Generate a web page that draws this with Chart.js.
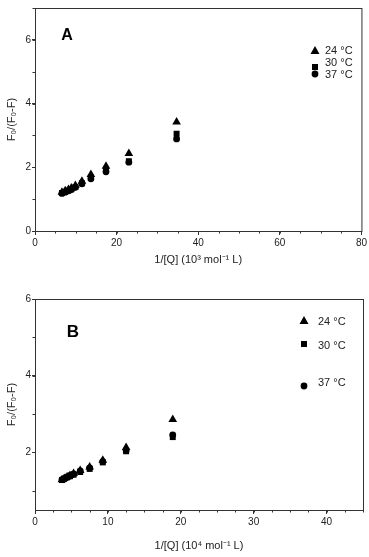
<!DOCTYPE html>
<html>
<head>
    <title>Stern-Volmer plots</title>
    <script src="https://cdn.jsdelivr.net/npm/chart.js"></script>
    <style>
        body { margin: 0; background: #fff; }
        canvas { display: block; }
    </style>
</head>
<body>
    <canvas id="chartA" width="369" height="270"></canvas>
    <canvas id="chartB" width="369" height="287"></canvas>

    <script>
        // legend labels shared by both panels
        const seriesLabels = ['24 °C', '30 °C', '37 °C'];

        // panel A : 1/[Q] in 10^3 mol^-1 L
        const xA = [6.6, 7.4, 8.2, 8.9, 9.9, 11.5, 13.7, 17.4, 23.0, 34.7];
        const a24 = [1.22, 1.26, 1.30, 1.35, 1.43, 1.56, 1.77, 2.03, 2.43, 3.42];
        const a30 = [1.19, 1.23, 1.27, 1.31, 1.38, 1.50, 1.68, 1.92, 2.19, 3.05];
        const a37 = [1.18, 1.22, 1.26, 1.30, 1.37, 1.48, 1.64, 1.86, 2.16, 2.89];
        const xTicksA = [0, 20, 40, 60, 80];
        const yTicksA = [0, 2, 4, 6];

        // panel B : 1/[Q] in 10^4 mol^-1 L
        const xB = [3.7, 4.0, 4.4, 4.8, 5.3, 6.2, 7.5, 9.3, 12.5, 18.9];
        const b24 = [1.29, 1.32, 1.36, 1.40, 1.45, 1.53, 1.62, 1.80, 2.13, 2.86];
        const b30 = [1.28, 1.31, 1.35, 1.38, 1.42, 1.49, 1.57, 1.74, 2.03, 2.40];
        const b37 = [1.29, 1.32, 1.36, 1.40, 1.44, 1.52, 1.60, 1.76, 2.05, 2.46];
        const xTicksB = [0, 10, 20, 30, 40];
        const yTicksB = [2, 4, 6];

        const axisColor = '#333';
        const textColor = '#222';
        const fontName = '"Liberation Sans", Arial, sans-serif';

        function points(xs, ys) {
            return xs.map((x, i) => ({ x: x, y: ys[i] }));
        }

        // marker styles: triangle, square, circle
        const markers = [
            { pointStyle: 'triangle', radius: 5 },
            { pointStyle: 'rect', radius: 4.2 },
            { pointStyle: 'circle', radius: 3.4 }
        ];

        function makeDatasets(xs, series) {
            return series.map((ys, i) => ({
                label: seriesLabels[i],
                data: points(xs, ys),
                pointStyle: markers[i].pointStyle,
                pointRadius: markers[i].radius,
                pointHoverRadius: markers[i].radius,
                backgroundColor: '#000',
                borderColor: '#000',
                borderWidth: 0,
                showLine: false
            }));
        }

        function drawMarker(ctx, style, x, y) {
            ctx.fillStyle = '#000';
            ctx.beginPath();
            if (style === 'triangle') {
                ctx.moveTo(x, y - 5);
                ctx.lineTo(x + 4.5, y + 3);
                ctx.lineTo(x - 4.5, y + 3);
                ctx.closePath();
            } else if (style === 'rect') {
                ctx.rect(x - 3, y - 3, 6, 6);
            } else {
                ctx.arc(x, y, 3.4, 0, Math.PI * 2);
            }
            ctx.fill();
        }

        // frame, minor ticks, panel letter and in-plot legend
        const decorPlugin = {
            id: 'decor',
            afterDraw(chart) {
                const o = chart.options.plugins.decor;
                const ctx = chart.ctx;
                const area = chart.chartArea;
                const xs = chart.scales.x;
                const ys = chart.scales.y;
                ctx.save();
                ctx.strokeStyle = axisColor;
                ctx.lineWidth = 1;
                ctx.strokeRect(area.left + 0.5, area.top + 0.5, area.right - area.left, area.bottom - area.top);

                ctx.beginPath();
                for (let v = xs.min; v <= xs.max + 1e-9; v += o.xMinor) {
                    const px = Math.round(xs.getPixelForValue(v)) + 0.5;
                    ctx.moveTo(px, area.bottom);
                    ctx.lineTo(px, area.bottom + 2.5);
                }
                const yStart = Math.ceil(ys.min / o.yMinor) * o.yMinor;
                for (let v = yStart; v <= ys.max + 1e-9; v += o.yMinor) {
                    const py = Math.round(ys.getPixelForValue(v)) + 0.5;
                    ctx.moveTo(area.left, py);
                    ctx.lineTo(area.left - 2.5, py);
                }
                ctx.stroke();

                ctx.fillStyle = '#000';
                ctx.font = 'bold ' + o.letterSize + 'px ' + fontName;
                ctx.textAlign = 'center';
                ctx.textBaseline = 'middle';
                ctx.fillText(o.letter, o.letterX, o.letterY);

                ctx.font = '11px ' + fontName;
                ctx.textAlign = 'left';
                chart.data.datasets.forEach((ds, i) => {
                    drawMarker(ctx, ds.pointStyle, o.legendX, o.markerY[i]);
                    ctx.fillStyle = textColor;
                    ctx.fillText(ds.label, o.legendTextX, o.textY[i]);
                });
                ctx.restore();
            }
        };

        function makeOptions(cfg) {
            return {
                responsive: false,
                animation: false,
                devicePixelRatio: 1,
                layout: { padding: { top: cfg.padTop, right: 6, left: 0, bottom: 0 } },
                plugins: {
                    legend: { display: false },
                    tooltip: { enabled: false },
                    decor: cfg.decor
                },
                scales: {
                    x: {
                        type: 'linear',
                        min: cfg.xMin,
                        max: cfg.xMax,
                        afterFit: (s) => { s.height = cfg.xAxisHeight; },
                        afterBuildTicks: (s) => {
                            s.ticks = cfg.xTicks.map(v => ({ value: v }));
                        },
                        border: { color: axisColor, width: 1 },
                        grid: { drawOnChartArea: false, color: axisColor, tickLength: 4 },
                        ticks: {
                            color: textColor,
                            padding: cfg.xTickPad,
                            maxRotation: 0,
                            font: { family: fontName, size: 10 }
                        },
                        title: {
                            display: true,
                            text: cfg.xTitle,
                            color: textColor,
                            padding: { top: 0, bottom: cfg.xTitlePad },
                            font: { family: fontName, size: 11 }
                        }
                    },
                    y: {
                        type: 'linear',
                        min: cfg.yMin,
                        max: cfg.yMax,
                        afterFit: (s) => { s.width = 35; },
                        afterBuildTicks: (s) => {
                            s.ticks = cfg.yTicks.map(v => ({ value: v }));
                        },
                        border: { color: axisColor, width: 1 },
                        grid: { drawOnChartArea: false, color: axisColor, tickLength: 3 },
                        ticks: {
                            color: textColor,
                            padding: 1,
                            font: { family: fontName, size: 10 }
                        },
                        title: {
                            display: true,
                            text: 'F₀/(F₀-F)',
                            color: textColor,
                            padding: { top: 5, bottom: 0 },
                            font: { family: fontName, size: 11 }
                        }
                    }
                }
            };
        }

        new Chart(document.getElementById('chartA'), {
            type: 'scatter',
            data: { datasets: makeDatasets(xA, [a24, a30, a37]) },
            options: makeOptions({
                padTop: 8, xAxisHeight: 39, xTickPad: 2, xTitlePad: 3,
                xMin: 0, xMax: 80, xTicks: xTicksA,
                yMin: 0, yMax: 7, yTicks: yTicksA,
                xTitle: '1/[Q] (10³ mol⁻¹ L)',
                decor: {
                    xMinor: 5, yMinor: 1,
                    letter: 'A', letterSize: 16, letterX: 67, letterY: 36,
                    legendX: 315, legendTextX: 325,
                    markerY: [51, 67, 74], textY: [51, 63, 75]
                }
            }),
            plugins: [decorPlugin]
        });

        new Chart(document.getElementById('chartB'), {
            type: 'scatter',
            data: { datasets: makeDatasets(xB, [b24, b30, b37]) },
            options: makeOptions({
                padTop: 29, xAxisHeight: 47, xTickPad: 2, xTitlePad: 4,
                xMin: 0, xMax: 45, xTicks: xTicksB,
                yMin: 0.5, yMax: 6, yTicks: yTicksB,
                xTitle: '1/[Q] (10⁴ mol⁻¹ L)',
                decor: {
                    xMinor: 2.5, yMinor: 1,
                    letter: 'B', letterSize: 17, letterX: 73, letterY: 62,
                    legendX: 304, legendTextX: 318,
                    markerY: [51, 74, 116], textY: [52, 76, 113]
                }
            }),
            plugins: [decorPlugin]
        });
    </script>
</body>
</html>
